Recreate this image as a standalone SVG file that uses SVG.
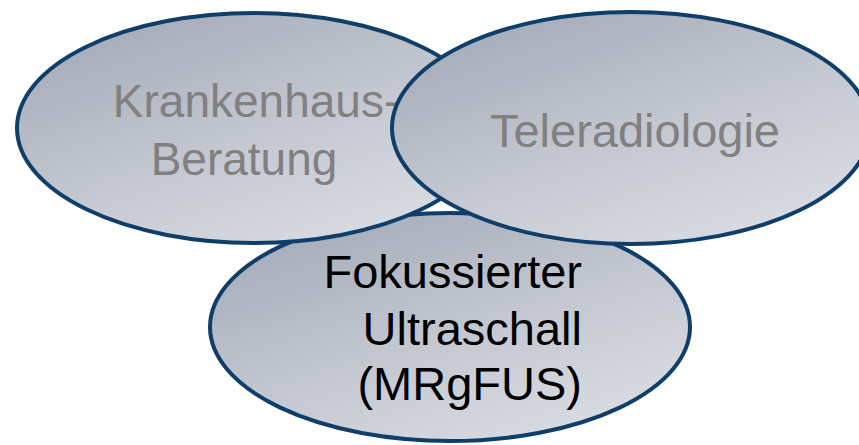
<svg xmlns="http://www.w3.org/2000/svg" width="859" height="445" viewBox="0 0 859 445">
<defs>
<linearGradient id="g" x1="0.15" y1="0" x2="0.85" y2="1">
<stop offset="0" stop-color="#a2a9b8"/>
<stop offset="0.5" stop-color="#c2c6cf"/>
<stop offset="1" stop-color="#dcdfe5"/>
</linearGradient>
<style>
.e{fill:url(#g);stroke:#0f3e68;stroke-width:4}
.t{font-family:"Liberation Sans",Arial,sans-serif;font-size:46px}
.g{fill:#808080}
.b{fill:#000000}
</style>
</defs>
<rect width="859" height="445" fill="#ffffff"/>
<g id="node-fus">
<ellipse class="e" cx="450" cy="327" rx="240" ry="114"/>
<text class="t b" text-anchor="end" style="font-size:47px"><tspan x="582" y="288">Fokussierter</tspan><tspan x="582" y="345">Ultraschall</tspan><tspan x="582" y="400">(MRgFUS)</tspan></text>
</g>
<g id="node-krankenhaus">
<ellipse class="e" cx="254" cy="128" rx="237" ry="115"/>
<text class="t g" text-anchor="middle"><tspan x="256" y="117">Krankenhaus-</tspan><tspan x="244" y="175">Beratung</tspan></text>
</g>
<g id="node-teleradiologie">
<ellipse class="e" cx="631" cy="128" rx="239" ry="116"/>
<text class="t g" text-anchor="middle" x="635" y="147" style="font-size:47px">Teleradiologie</text>
</g>
<g id="connectors"></g>
</svg>
